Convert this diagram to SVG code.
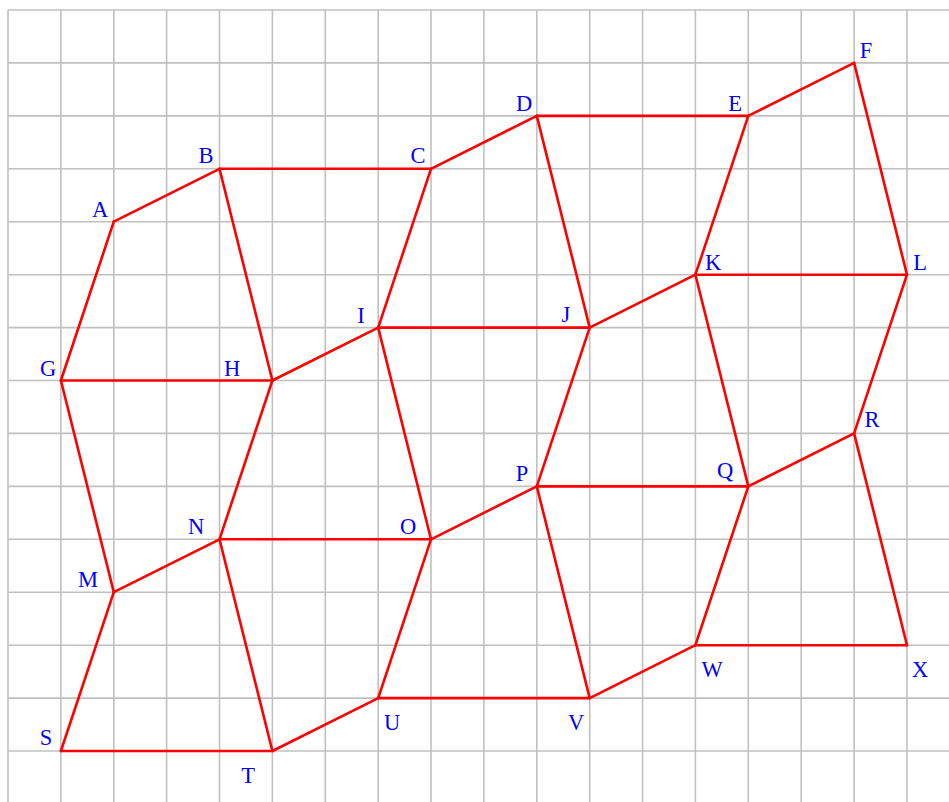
<svg xmlns="http://www.w3.org/2000/svg" width="949" height="802" viewBox="0 0 949 802">
<style>
.grid line{stroke:#c0c0c0;stroke-width:1.6}
.edges line{stroke:#ff0000;stroke-width:2.6;stroke-linecap:round}
text{font-family:"Liberation Serif","Times New Roman",serif;font-size:22.5px;fill:#0000ff;text-anchor:middle}
</style>
<rect width="949" height="802" fill="#ffffff"/>
<g class="grid">
<line x1="8" y1="10" x2="8" y2="802"/><line x1="60.9" y1="10" x2="60.9" y2="802"/><line x1="113.8" y1="10" x2="113.8" y2="802"/><line x1="166.6" y1="10" x2="166.6" y2="802"/><line x1="219.5" y1="10" x2="219.5" y2="802"/><line x1="272.4" y1="10" x2="272.4" y2="802"/><line x1="325.3" y1="10" x2="325.3" y2="802"/><line x1="378.2" y1="10" x2="378.2" y2="802"/><line x1="431" y1="10" x2="431" y2="802"/><line x1="483.9" y1="10" x2="483.9" y2="802"/><line x1="536.8" y1="10" x2="536.8" y2="802"/><line x1="589.7" y1="10" x2="589.7" y2="802"/><line x1="642.6" y1="10" x2="642.6" y2="802"/><line x1="695.4" y1="10" x2="695.4" y2="802"/><line x1="748.3" y1="10" x2="748.3" y2="802"/><line x1="801.2" y1="10" x2="801.2" y2="802"/><line x1="854.1" y1="10" x2="854.1" y2="802"/><line x1="907" y1="10" x2="907" y2="802"/>
<line x1="8" y1="10" x2="949" y2="10"/><line x1="8" y1="62.9" x2="949" y2="62.9"/><line x1="8" y1="115.9" x2="949" y2="115.9"/><line x1="8" y1="168.8" x2="949" y2="168.8"/><line x1="8" y1="221.7" x2="949" y2="221.7"/><line x1="8" y1="274.7" x2="949" y2="274.7"/><line x1="8" y1="327.6" x2="949" y2="327.6"/><line x1="8" y1="380.5" x2="949" y2="380.5"/><line x1="8" y1="433.4" x2="949" y2="433.4"/><line x1="8" y1="486.4" x2="949" y2="486.4"/><line x1="8" y1="539.3" x2="949" y2="539.3"/><line x1="8" y1="592.2" x2="949" y2="592.2"/><line x1="8" y1="645.2" x2="949" y2="645.2"/><line x1="8" y1="698.1" x2="949" y2="698.1"/><line x1="8" y1="751" x2="949" y2="751"/>
</g>
<g id="connectors" class="edges">
<line x1="113.8" y1="221.7" x2="219.5" y2="168.8"/>
<line x1="219.5" y1="168.8" x2="431" y2="168.8"/>
<line x1="431" y1="168.8" x2="536.8" y2="115.9"/>
<line x1="536.8" y1="115.9" x2="748.3" y2="115.9"/>
<line x1="748.3" y1="115.9" x2="854.1" y2="62.9"/>
<line x1="854.1" y1="62.9" x2="907" y2="274.7"/>
<line x1="695.4" y1="274.7" x2="907" y2="274.7"/>
<line x1="748.3" y1="115.9" x2="695.4" y2="274.7"/>
<line x1="695.4" y1="274.7" x2="589.7" y2="327.6"/>
<line x1="536.8" y1="115.9" x2="589.7" y2="327.6"/>
<line x1="378.2" y1="327.6" x2="589.7" y2="327.6"/>
<line x1="431" y1="168.8" x2="378.2" y2="327.6"/>
<line x1="378.2" y1="327.6" x2="272.4" y2="380.5"/>
<line x1="219.5" y1="168.8" x2="272.4" y2="380.5"/>
<line x1="60.9" y1="380.5" x2="272.4" y2="380.5"/>
<line x1="113.8" y1="221.7" x2="60.9" y2="380.5"/>
<line x1="60.9" y1="380.5" x2="113.8" y2="592.2"/>
<line x1="113.8" y1="592.2" x2="219.5" y2="539.3"/>
<line x1="272.4" y1="380.5" x2="219.5" y2="539.3"/>
<line x1="219.5" y1="539.3" x2="431" y2="539.3"/>
<line x1="378.2" y1="327.6" x2="431" y2="539.3"/>
<line x1="431" y1="539.3" x2="536.8" y2="486.4"/>
<line x1="589.7" y1="327.6" x2="536.8" y2="486.4"/>
<line x1="536.8" y1="486.4" x2="748.3" y2="486.4"/>
<line x1="695.4" y1="274.7" x2="748.3" y2="486.4"/>
<line x1="748.3" y1="486.4" x2="854.1" y2="433.4"/>
<line x1="907" y1="274.7" x2="854.1" y2="433.4"/>
<line x1="854.1" y1="433.4" x2="907" y2="645.2"/>
<line x1="695.4" y1="645.2" x2="907" y2="645.2"/>
<line x1="748.3" y1="486.4" x2="695.4" y2="645.2"/>
<line x1="695.4" y1="645.2" x2="589.7" y2="698.1"/>
<line x1="536.8" y1="486.4" x2="589.7" y2="698.1"/>
<line x1="378.2" y1="698.1" x2="589.7" y2="698.1"/>
<line x1="431" y1="539.3" x2="378.2" y2="698.1"/>
<line x1="378.2" y1="698.1" x2="272.4" y2="751"/>
<line x1="219.5" y1="539.3" x2="272.4" y2="751"/>
<line x1="60.9" y1="751" x2="272.4" y2="751"/>
<line x1="113.8" y1="592.2" x2="60.9" y2="751"/>
</g>
<g id="A"><text x="100" y="217">A</text></g>
<g id="B"><text x="206" y="163">B</text></g>
<g id="C"><text x="418" y="163">C</text></g>
<g id="D"><text x="524" y="111">D</text></g>
<g id="E"><text x="735" y="111">E</text></g>
<g id="F"><text x="866" y="58">F</text></g>
<g id="G"><text x="48" y="376">G</text></g>
<g id="H"><text x="232" y="376">H</text></g>
<g id="I"><text x="361" y="323">I</text></g>
<g id="J"><text x="566" y="322">J</text></g>
<g id="K"><text x="713" y="270">K</text></g>
<g id="L"><text x="920" y="270">L</text></g>
<g id="M"><text x="88" y="587">M</text></g>
<g id="N"><text x="196" y="534">N</text></g>
<g id="O"><text x="408" y="534">O</text></g>
<g id="P"><text x="522" y="481">P</text></g>
<g id="Q"><text x="725" y="478">Q</text></g>
<g id="R"><text x="872" y="427">R</text></g>
<g id="S"><text x="46" y="745">S</text></g>
<g id="T"><text x="248" y="783">T</text></g>
<g id="U"><text x="392" y="730">U</text></g>
<g id="V"><text x="576" y="730">V</text></g>
<g id="W"><text x="712" y="677">W</text></g>
<g id="X"><text x="920" y="677">X</text></g>
</svg>
